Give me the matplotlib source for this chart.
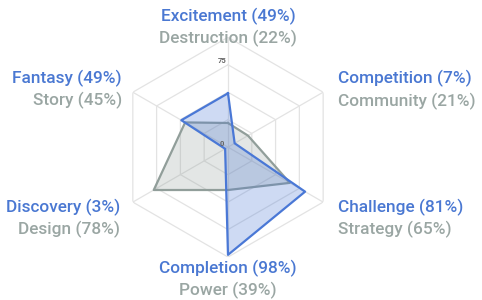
import numpy as np
import matplotlib

matplotlib.use("Agg")
import matplotlib.pyplot as plt

# two motivation profiles on the same six axes (percent)
primary_labels = ["Excitement", "Competition", "Challenge", "Completion", "Discovery", "Fantasy"]
primary_values = [49, 7, 81, 98, 3, 49]
secondary_labels = ["Destruction", "Community", "Strategy", "Power", "Design", "Story"]
secondary_values = [22, 21, 65, 39, 78, 45]
ring_levels = [25, 50, 75, 100]
shown_ticks = [0, 75]

BLUE = "#4a78d6"
BLUE_TEXT = "#4a78d2"
GRAY = "#919e9a"
GRAY_TEXT = "#9aa6a3"
GRID = "#e3e3e3"

plt.rcParams["font.family"] = ["Roboto", "DejaVu Sans"]

fig = plt.figure(figsize=(4.82, 3.0), dpi=100)
ax = fig.add_axes([0.245, 0.143, 0.456, 0.733], projection="polar")
ax.set_theta_offset(np.pi / 2)
ax.set_theta_direction(-1)
ax.set_ylim(0, 100)
ax.grid(False)
ax.spines["polar"].set_visible(False)
ax.set_xticks([])
ax.set_yticks([])
ax.patch.set_alpha(0)

n = len(primary_labels)
angles = np.arange(n) * 2 * np.pi / n
closed = np.append(angles, angles[0])

# hexagonal grid
for level in ring_levels:
    ax.plot(closed, [level] * (n + 1), color=GRID, lw=0.9, zorder=1)
for a in angles:
    ax.plot([a, a], [0, 100], color=GRID, lw=0.9, zorder=1)

sec = np.append(secondary_values, secondary_values[0])
ax.fill(closed, sec, color=GRAY, alpha=0.25, lw=0, zorder=2)
ax.plot(closed, sec, color=GRAY, lw=1.6, zorder=3)

pri = np.append(primary_values, primary_values[0])
ax.fill(closed, pri, color=BLUE, alpha=0.27, lw=0, zorder=4)
ax.plot(closed, pri, color=BLUE, lw=1.6, zorder=5)

for t in shown_ticks:
    ax.annotate(str(t), (0, t), textcoords="offset pixels", xytext=(-6, 4),
                ha="center", va="center", fontsize=5.5, color="#666666",
                fontweight="bold", zorder=6)

# label placement around each vertex: (dx, dy primary, dy secondary, ha)
layout = [
    (0, 21, -1, "center"),
    (15, 14, -9, "left"),
    (15, -5, -27, "left"),
    (0, -11, -33, "center"),
    (-13, -5, -27, "right"),
    (-11, 14, -8, "right"),
]
for i, (dx, dy1, dy2, ha) in enumerate(layout):
    ax.annotate(f"{primary_labels[i]} ({primary_values[i]}%)", (angles[i], 100),
                textcoords="offset pixels", xytext=(dx, dy1), ha=ha, va="center",
                fontsize=12.4, color=BLUE_TEXT, fontweight="medium",
                annotation_clip=False)
    ax.annotate(f"{secondary_labels[i]} ({secondary_values[i]}%)", (angles[i], 100),
                textcoords="offset pixels", xytext=(dx, dy2), ha=ha, va="center",
                fontsize=12.4, color=GRAY_TEXT, fontweight="medium",
                annotation_clip=False)

fig.savefig("out.png", dpi=100)
